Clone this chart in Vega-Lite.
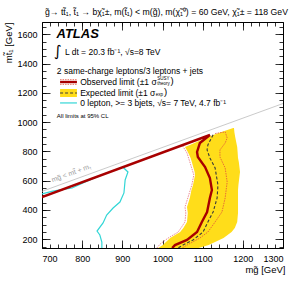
{
  "$schema": "https://vega.github.io/schema/vega-lite/v6.json",
  "width": 241,
  "height": 226,
  "autosize": {"type": "none"},
  "padding": {"left": 42, "top": 22, "right": 17, "bottom": 36},
  "background": "white",
  "title": {
    "text": "g̃→ tt̃₁, t̃₁ → bχ̃₁±, m(t̃₁) < m(g̃), m(χ̃₁⁰) = 60 GeV, χ̃₁± = 118 GeV",
    "anchor": "start",
    "frame": "group",
    "font": "Liberation Sans",
    "fontSize": 8.7,
    "fontWeight": "normal",
    "color": "black",
    "offset": 5,
    "dx": 3
  },
  "config": {
    "view": {"stroke": "black", "strokeWidth": 1},
    "axis": {
      "domain": false,
      "grid": false,
      "tickColor": "black",
      "tickWidth": 0.8,
      "labelFont": "Liberation Sans",
      "labelFontSize": 9,
      "labelColor": "black",
      "format": "d",
      "titleFont": "Liberation Sans",
      "titleFontSize": 9.5,
      "titleFontWeight": "normal",
      "titleColor": "black"
    }
  },
  "datasets": {
    "band": [
      {"m_t": 140, "left": 989, "right": 1090},
      {"m_t": 160, "left": 1001, "right": 1115},
      {"m_t": 208, "left": 1019, "right": 1152},
      {"m_t": 249, "left": 1044, "right": 1172},
      {"m_t": 277, "left": 1052, "right": 1180},
      {"m_t": 318, "left": 1061, "right": 1186},
      {"m_t": 379, "left": 1063, "right": 1188},
      {"m_t": 420, "left": 1061, "right": 1188},
      {"m_t": 482, "left": 1068, "right": 1188},
      {"m_t": 536, "left": 1072, "right": 1188},
      {"m_t": 570, "left": 1076, "right": 1189},
      {"m_t": 639, "left": 1081, "right": 1192},
      {"m_t": 659, "left": 1080, "right": 1193},
      {"m_t": 728, "left": 1073, "right": 1190},
      {"m_t": 755, "left": 1070, "right": 1188},
      {"m_t": 796, "left": 1063, "right": 1187},
      {"m_t": 830, "left": 1056, "right": 1186},
      {"m_t": 844, "left": 1068, "right": 1185},
      {"m_t": 898, "left": 1113, "right": 1181},
      {"m_t": 930, "left": 1145, "right": 1179},
      {"m_t": 960, "left": 1176, "right": 1178}
    ],
    "kin": [
      {"i": 0, "m_g": 700, "m_t": 527},
      {"i": 1, "m_g": 1300, "m_t": 1127}
    ],
    "cyan": [
      {"i": 0, "m_g": 700, "m_t": 509},
      {"i": 1, "m_g": 727, "m_t": 529},
      {"i": 2, "m_g": 757, "m_t": 542},
      {"i": 3, "m_g": 775, "m_t": 550},
      {"i": 4, "m_g": 802, "m_t": 584},
      {"i": 5, "m_g": 837, "m_t": 625},
      {"i": 6, "m_g": 861, "m_t": 652},
      {"i": 7, "m_g": 889, "m_t": 680},
      {"i": 8, "m_g": 901, "m_t": 693},
      {"i": 9, "m_g": 914, "m_t": 659},
      {"i": 10, "m_g": 907, "m_t": 605},
      {"i": 11, "m_g": 904, "m_t": 516},
      {"i": 12, "m_g": 894, "m_t": 454},
      {"i": 13, "m_g": 877, "m_t": 413},
      {"i": 14, "m_g": 861, "m_t": 365},
      {"i": 15, "m_g": 852, "m_t": 311},
      {"i": 16, "m_g": 837, "m_t": 256},
      {"i": 17, "m_g": 844, "m_t": 229},
      {"i": 18, "m_g": 849, "m_t": 181},
      {"i": 19, "m_g": 849, "m_t": 140}
    ],
    "exp": [
      {"i": 0, "m_g": 1126, "m_t": 914},
      {"i": 1, "m_g": 1113, "m_t": 844},
      {"i": 2, "m_g": 1111, "m_t": 810},
      {"i": 3, "m_g": 1118, "m_t": 755},
      {"i": 4, "m_g": 1131, "m_t": 687},
      {"i": 5, "m_g": 1138, "m_t": 570},
      {"i": 6, "m_g": 1136, "m_t": 482},
      {"i": 7, "m_g": 1126, "m_t": 386},
      {"i": 8, "m_g": 1113, "m_t": 318},
      {"i": 9, "m_g": 1101, "m_t": 249},
      {"i": 10, "m_g": 1076, "m_t": 195},
      {"i": 11, "m_g": 1051, "m_t": 160},
      {"i": 12, "m_g": 1039, "m_t": 140}
    ],
    "obsUp": [
      {"i": 0, "m_g": 1131, "m_t": 922},
      {"i": 1, "m_g": 1156, "m_t": 933},
      {"i": 2, "m_g": 1161, "m_t": 892},
      {"i": 3, "m_g": 1156, "m_t": 857},
      {"i": 4, "m_g": 1143, "m_t": 810},
      {"i": 5, "m_g": 1143, "m_t": 762},
      {"i": 6, "m_g": 1156, "m_t": 687},
      {"i": 7, "m_g": 1161, "m_t": 591},
      {"i": 8, "m_g": 1156, "m_t": 482},
      {"i": 9, "m_g": 1148, "m_t": 386},
      {"i": 10, "m_g": 1131, "m_t": 318},
      {"i": 11, "m_g": 1113, "m_t": 249},
      {"i": 12, "m_g": 1093, "m_t": 208},
      {"i": 13, "m_g": 1061, "m_t": 160},
      {"i": 14, "m_g": 1049, "m_t": 140}
    ],
    "obsDown": [
      {"i": 0, "m_g": 1050, "m_t": 838},
      {"i": 1, "m_g": 1061, "m_t": 789},
      {"i": 2, "m_g": 1068, "m_t": 728},
      {"i": 3, "m_g": 1078, "m_t": 639},
      {"i": 4, "m_g": 1073, "m_t": 570},
      {"i": 5, "m_g": 1063, "m_t": 482},
      {"i": 6, "m_g": 1056, "m_t": 420},
      {"i": 7, "m_g": 1058, "m_t": 379},
      {"i": 8, "m_g": 1056, "m_t": 318},
      {"i": 9, "m_g": 1039, "m_t": 249},
      {"i": 10, "m_g": 1014, "m_t": 208},
      {"i": 11, "m_g": 994, "m_t": 167},
      {"i": 12, "m_g": 986, "m_t": 140}
    ],
    "obs": [
      {"i": 0, "m_g": 700, "m_t": 488},
      {"i": 1, "m_g": 1118, "m_t": 912},
      {"i": 2, "m_g": 1093, "m_t": 857},
      {"i": 3, "m_g": 1086, "m_t": 796},
      {"i": 4, "m_g": 1088, "m_t": 762},
      {"i": 5, "m_g": 1106, "m_t": 693},
      {"i": 6, "m_g": 1118, "m_t": 618},
      {"i": 7, "m_g": 1123, "m_t": 536},
      {"i": 8, "m_g": 1118, "m_t": 482},
      {"i": 9, "m_g": 1111, "m_t": 386},
      {"i": 10, "m_g": 1098, "m_t": 318},
      {"i": 11, "m_g": 1086, "m_t": 249},
      {"i": 12, "m_g": 1061, "m_t": 195},
      {"i": 13, "m_g": 1031, "m_t": 160},
      {"i": 14, "m_g": 1024, "m_t": 140}
    ]
  },
  "resolve": {"axis": {"x": "independent", "y": "independent"}},
  "layer": [
    {
      "data": {"name": "band"},
      "mark": {"type": "area", "orient": "horizontal", "color": "#ffdd1a", "clip": true},
      "encoding": {
        "y": {"field": "m_t", "type": "quantitative", "scale": {"domain": [140, 1684], "nice": false, "zero": false},
          "axis": {"orient": "left", "values": [200, 400, 600, 800, 1000, 1200, 1400, 1600], "tickSize": -8, "labelPadding": 13,
            "title": "mt̃₁ [GeV]", "titleAngle": -90, "titleX": -34, "titleY": 0, "titleAlign": "right", "titleBaseline": "middle"}},
        "x": {"field": "left", "type": "quantitative", "scale": {"domain": [700, 1300], "nice": false, "zero": false},
          "axis": {"orient": "bottom", "values": [700, 800, 900, 1000, 1100, 1200, 1300], "tickSize": -8, "labelPadding": 14,
            "title": "mg̃ [GeV]", "titleX": 243, "titleY": 21, "titleAlign": "right", "titleBaseline": "middle"}},
        "x2": {"field": "right"}
      }
    },
    {
      "data": {"name": "kin"},
      "mark": {"type": "line", "color": "#bdbdbd", "strokeWidth": 0.8, "clip": true},
      "encoding": {
        "x": {"field": "m_g", "type": "quantitative",
          "axis": {"orient": "bottom", "values": [700,720,740,760,780,800,820,840,860,880,900,920,940,960,980,1000,1020,1040,1060,1080,1100,1120,1140,1160,1180,1200,1220,1240,1260,1280,1300], "tickSize": -4, "labels": false, "title": null}},
        "y": {"field": "m_t", "type": "quantitative",
          "axis": {"orient": "left", "values": [150,200,250,300,350,400,450,500,550,600,650,700,750,800,850,900,950,1000,1050,1100,1150,1200,1250,1300,1350,1400,1450,1500,1550,1600,1650], "tickSize": -4, "labels": false, "title": null}},
        "order": {"field": "i"}
      }
    },
    {
      "data": {"name": "cyan"},
      "mark": {"type": "line", "color": "#33d6d6", "strokeWidth": 1.2, "clip": true},
      "encoding": {
        "x": {"field": "m_g", "type": "quantitative",
          "axis": {"orient": "top", "values": [700, 800, 900, 1000, 1100, 1200, 1300], "tickSize": -8, "labels": false, "title": null}},
        "y": {"field": "m_t", "type": "quantitative",
          "axis": {"orient": "right", "values": [200, 400, 600, 800, 1000, 1200, 1400, 1600], "tickSize": -8, "labels": false, "title": null}},
        "order": {"field": "i"}
      }
    },
    {
      "data": {"name": "exp"},
      "mark": {"type": "line", "color": "#3a3a3a", "strokeWidth": 1.1, "strokeDash": [3, 2], "clip": true},
      "encoding": {
        "x": {"field": "m_g", "type": "quantitative",
          "axis": {"orient": "top", "values": [700,720,740,760,780,800,820,840,860,880,900,920,940,960,980,1000,1020,1040,1060,1080,1100,1120,1140,1160,1180,1200,1220,1240,1260,1280,1300], "tickSize": -4, "labels": false, "title": null}},
        "y": {"field": "m_t", "type": "quantitative",
          "axis": {"orient": "right", "values": [150,200,250,300,350,400,450,500,550,600,650,700,750,800,850,900,950,1000,1050,1100,1150,1200,1250,1300,1350,1400,1450,1500,1550,1600,1650], "tickSize": -4, "labels": false, "title": null}},
        "order": {"field": "i"}
      }
    },
    {
      "data": {"name": "obsUp"},
      "mark": {"type": "line", "color": "#e0503c", "strokeWidth": 0.8, "strokeDash": [1.5, 1], "clip": true},
      "encoding": {
        "x": {"field": "m_g", "type": "quantitative", "axis": null},
        "y": {"field": "m_t", "type": "quantitative", "axis": null},
        "order": {"field": "i"}
      }
    },
    {
      "data": {"name": "obsDown"},
      "mark": {"type": "line", "color": "#e8707a", "strokeWidth": 0.8, "strokeDash": [1.5, 1], "clip": true},
      "encoding": {
        "x": {"field": "m_g", "type": "quantitative", "axis": null},
        "y": {"field": "m_t", "type": "quantitative", "axis": null},
        "order": {"field": "i"}
      }
    },
    {
      "data": {"name": "obs"},
      "mark": {"type": "line", "color": "#a80000", "strokeWidth": 2.4, "clip": true},
      "encoding": {
        "x": {"field": "m_g", "type": "quantitative", "axis": null},
        "y": {"field": "m_t", "type": "quantitative", "axis": null},
        "order": {"field": "i"}
      }
    },
    {
      "data": {"values": [{"label": "mg̃ < mt̃ + mₜ", "kind": "kinematic"}]},
      "mark": {"type": "text", "font": "Liberation Sans", "fontSize": 7, "color": "#9a9a9a", "angle": -20, "align": "center", "baseline": "middle"},
      "encoding": {"x": {"datum": 773, "type": "quantitative", "axis": null}, "y": {"datum": 650, "type": "quantitative", "axis": null}, "text": {"field": "label"}}
    },
    {
      "data": {"values": [{"label": "ATLAS", "kind": "experiment"}]},
      "mark": {"type": "text", "font": "Liberation Sans", "fontSize": 13, "fontWeight": "bold", "fontStyle": "italic", "color": "black", "align": "left", "baseline": "middle"},
      "encoding": {"x": {"datum": 736, "type": "quantitative", "axis": null}, "y": {"datum": 1603, "type": "quantitative", "axis": null}, "text": {"field": "label"}}
    },
    {
      "data": {"values": [{"label": "∫", "kind": "integral"}]},
      "mark": {"type": "text", "font": "DejaVu Sans", "fontSize": 15, "color": "black", "align": "left", "baseline": "middle"},
      "encoding": {"x": {"datum": 730, "type": "quantitative", "axis": null}, "y": {"datum": 1485, "type": "quantitative", "axis": null}, "text": {"field": "label"}}
    },
    {
      "data": {"values": [{"label": "L dt = 20.3 fb⁻¹, √s=8 TeV", "kind": "lumi"}]},
      "mark": {"type": "text", "font": "Liberation Sans", "fontSize": 8.5, "color": "black", "align": "left", "baseline": "middle"},
      "encoding": {"x": {"datum": 757, "type": "quantitative", "axis": null}, "y": {"datum": 1479, "type": "quantitative", "axis": null}, "text": {"field": "label"}}
    },
    {
      "data": {"values": [{"label": "2 same-charge leptons/3 leptons + jets", "kind": "channel"}]},
      "mark": {"type": "text", "font": "Liberation Sans", "fontSize": 8.5, "color": "black", "align": "left", "baseline": "middle"},
      "encoding": {"x": {"datum": 737, "type": "quantitative", "axis": null}, "y": {"datum": 1348, "type": "quantitative", "axis": null}, "text": {"field": "label"}}
    },
    {
      "data": {"values": [{"entry": "Expected", "part": "band"}]},
      "mark": {"type": "rect", "color": "#ffdd1a"},
      "encoding": {"x": {"datum": 745, "type": "quantitative", "axis": null}, "x2": {"datum": 787}, "y": {"datum": 1171, "type": "quantitative", "axis": null}, "y2": {"datum": 1226}}
    },
    {
      "data": {"values": [{"entry": "Expected", "part": "line"}]},
      "mark": {"type": "rule", "color": "#3a3a3a", "strokeWidth": 1.1, "strokeDash": [3, 2]},
      "encoding": {"x": {"datum": 745, "type": "quantitative", "axis": null}, "x2": {"datum": 787}, "y": {"datum": 1199, "type": "quantitative", "axis": null}}
    },
    {
      "data": {"values": [{"entry": "Observed", "part": "line"}]},
      "mark": {"type": "rule", "color": "#a80000", "strokeWidth": 2.4},
      "encoding": {"x": {"datum": 745, "type": "quantitative", "axis": null}, "x2": {"datum": 787}, "y": {"datum": 1274, "type": "quantitative", "axis": null}}
    },
    {
      "data": {"values": [{"entry": "Observed", "side": "up", "m_t": 1290}, {"entry": "Observed", "side": "down", "m_t": 1258}]},
      "mark": {"type": "rule", "color": "#e0503c", "strokeWidth": 0.8, "strokeDash": [1.5, 1]},
      "encoding": {"x": {"datum": 745, "type": "quantitative", "axis": null}, "x2": {"datum": 787}, "y": {"field": "m_t", "type": "quantitative", "axis": null}}
    },
    {
      "data": {"values": [{"entry": "0 lepton", "part": "line"}]},
      "mark": {"type": "rule", "color": "#33d6d6", "strokeWidth": 1.2},
      "encoding": {"x": {"datum": 745, "type": "quantitative", "axis": null}, "x2": {"datum": 787}, "y": {"datum": 1131, "type": "quantitative", "axis": null}}
    },
    {
      "data": {"values": [{"label": "Observed limit (±1 σ", "kind": "obs-text"}]},
      "mark": {"type": "text", "font": "Liberation Sans", "fontSize": 8.5, "color": "black", "align": "left", "baseline": "middle"},
      "encoding": {"x": {"datum": 795, "type": "quantitative", "axis": null}, "y": {"datum": 1274, "type": "quantitative", "axis": null}, "text": {"field": "label"}}
    },
    {
      "data": {"values": [{"label": "SUSY", "kind": "obs-sup"}]},
      "mark": {"type": "text", "font": "Liberation Sans", "fontSize": 4.5, "color": "black", "align": "left", "baseline": "middle"},
      "encoding": {"x": {"datum": 987, "type": "quantitative", "axis": null}, "y": {"datum": 1298, "type": "quantitative", "axis": null}, "text": {"field": "label"}}
    },
    {
      "data": {"values": [{"label": "theory", "kind": "obs-sub"}]},
      "mark": {"type": "text", "font": "Liberation Sans", "fontSize": 4.5, "color": "black", "align": "left", "baseline": "middle"},
      "encoding": {"x": {"datum": 987, "type": "quantitative", "axis": null}, "y": {"datum": 1260, "type": "quantitative", "axis": null}, "text": {"field": "label"}}
    },
    {
      "data": {"values": [{"label": ")", "kind": "obs-close"}]},
      "mark": {"type": "text", "font": "Liberation Sans", "fontSize": 9.5, "color": "black", "align": "left", "baseline": "middle"},
      "encoding": {"x": {"datum": 1020, "type": "quantitative", "axis": null}, "y": {"datum": 1278, "type": "quantitative", "axis": null}, "text": {"field": "label"}}
    },
    {
      "data": {"values": [{"label": "Expected limit (±1 σ", "kind": "exp-text"}]},
      "mark": {"type": "text", "font": "Liberation Sans", "fontSize": 8.5, "color": "black", "align": "left", "baseline": "middle"},
      "encoding": {"x": {"datum": 795, "type": "quantitative", "axis": null}, "y": {"datum": 1199, "type": "quantitative", "axis": null}, "text": {"field": "label"}}
    },
    {
      "data": {"values": [{"label": "exp", "kind": "exp-sub"}]},
      "mark": {"type": "text", "font": "Liberation Sans", "fontSize": 4.5, "color": "black", "align": "left", "baseline": "middle"},
      "encoding": {"x": {"datum": 983, "type": "quantitative", "axis": null}, "y": {"datum": 1184, "type": "quantitative", "axis": null}, "text": {"field": "label"}}
    },
    {
      "data": {"values": [{"label": ")", "kind": "exp-close"}]},
      "mark": {"type": "text", "font": "Liberation Sans", "fontSize": 9.5, "color": "black", "align": "left", "baseline": "middle"},
      "encoding": {"x": {"datum": 1004, "type": "quantitative", "axis": null}, "y": {"datum": 1203, "type": "quantitative", "axis": null}, "text": {"field": "label"}}
    },
    {
      "data": {"values": [{"label": "0 lepton, >= 3 bjets, √s= 7 TeV, 4.7 fb⁻¹", "kind": "cyan-text"}]},
      "mark": {"type": "text", "font": "Liberation Sans", "fontSize": 8.5, "color": "black", "align": "left", "baseline": "middle"},
      "encoding": {"x": {"datum": 795, "type": "quantitative", "axis": null}, "y": {"datum": 1131, "type": "quantitative", "axis": null}, "text": {"field": "label"}}
    },
    {
      "data": {"values": [{"label": "All limits at 95% CL", "kind": "cl"}]},
      "mark": {"type": "text", "font": "Liberation Sans", "fontSize": 6, "color": "black", "align": "left", "baseline": "middle"},
      "encoding": {"x": {"datum": 737, "type": "quantitative", "axis": null}, "y": {"datum": 1042, "type": "quantitative", "axis": null}, "text": {"field": "label"}}
    }
  ]
}
